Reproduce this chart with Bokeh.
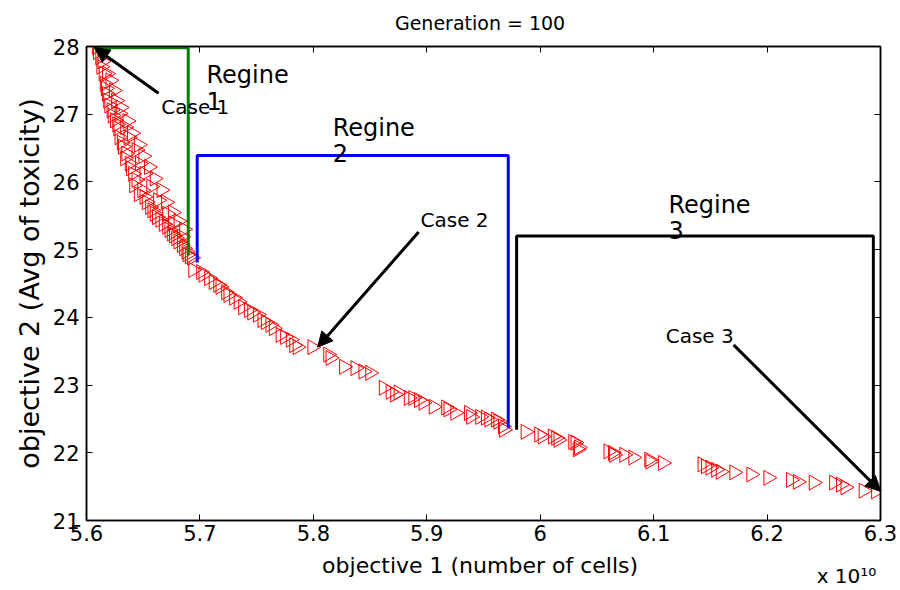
import math
from bokeh.plotting import figure
from bokeh.models import Range1d, FixedTicker, LinearAxis, Label, Arrow, NormalHead
from bokeh.embed import file_html
from bokeh.resources import INLINE

FONT = "DejaVu Sans"

# ---- data (objective 1 in units of 1e10 cells, objective 2 = avg toxicity) ----
cells_e10 = [
    5.609, 5.610, 5.612, 5.613, 5.614, 5.615, 5.621, 5.616, 5.617, 5.618,
    5.619, 5.626, 5.620, 5.622, 5.629, 5.623, 5.625, 5.627, 5.634, 5.628,
    5.629, 5.637, 5.631, 5.632, 5.644, 5.635, 5.634, 5.638, 5.647, 5.639,
    5.641, 5.651, 5.644, 5.642, 5.657, 5.649, 5.646, 5.651, 5.663, 5.653,
    5.656, 5.658, 5.660, 5.671, 5.662, 5.665, 5.676, 5.668, 5.671, 5.673,
    5.675, 5.677, 5.684, 5.679, 5.681, 5.684, 5.686, 5.688, 5.689, 5.691,
    5.618, 5.624, 5.630, 5.636, 5.640, 5.646, 5.650, 5.655, 5.660, 5.666,
    5.670, 5.676, 5.681, 5.686,
    5.693, 5.694, 5.701, 5.703, 5.708, 5.712, 5.716, 5.718, 5.723, 5.725,
    5.730, 5.734, 5.738, 5.743, 5.746, 5.751, 5.755, 5.758, 5.762, 5.765,
    5.771, 5.775, 5.780, 5.783, 5.786, 5.799, 5.813, 5.815, 5.827, 5.837,
    5.844, 5.850, 5.862, 5.868, 5.872, 5.875, 5.884, 5.888, 5.893, 5.897,
    5.906, 5.917, 5.919, 5.925, 5.937, 5.939, 5.947, 5.952, 5.955, 5.961,
    5.963, 5.967, 5.968, 5.987, 5.999, 6.002, 6.011, 6.014, 6.016, 6.029,
    6.034, 6.031, 6.033, 6.060, 6.064, 6.065, 6.074, 6.082, 6.096, 6.097,
    6.108, 6.143, 6.146, 6.150, 6.155, 6.159, 6.171, 6.186, 6.201, 6.221,
    6.227, 6.241, 6.259, 6.265, 6.269, 6.285, 6.296,
]
toxicity = [
    27.99, 27.92, 27.84, 27.70, 27.78, 27.60, 27.50, 27.45, 27.38, 27.30,
    27.20, 27.20, 27.13, 27.06, 27.01, 26.98, 26.91, 26.85, 26.81, 26.79,
    26.66, 26.66, 26.58, 26.52, 26.47, 26.42, 26.35, 26.27, 26.27, 26.20,
    26.12, 26.12, 26.03, 25.95, 25.93, 25.88, 25.82, 25.78, 25.73, 25.70,
    25.63, 25.58, 25.53, 25.53, 25.48, 25.44, 25.39, 25.38, 25.34, 25.29,
    25.24, 25.21, 25.19, 25.17, 25.12, 25.07, 25.02, 24.97, 24.93, 24.90,
    27.60, 27.35, 27.10, 26.90, 26.72, 26.55, 26.38, 26.22, 26.05, 25.88,
    25.70, 25.55, 25.42, 25.30,
    24.88, 24.70, 24.67, 24.63, 24.58, 24.52, 24.48, 24.45, 24.37, 24.33,
    24.29, 24.23, 24.15, 24.11, 24.07, 24.04, 23.96, 23.93, 23.89, 23.84,
    23.74, 23.71, 23.67, 23.59, 23.56, 23.56, 23.45, 23.40, 23.27, 23.25,
    23.20, 23.18, 22.96, 22.90, 22.86, 22.89, 22.81, 22.81, 22.78, 22.74,
    22.68, 22.67, 22.64, 22.59, 22.59, 22.53, 22.53, 22.52, 22.49, 22.49,
    22.46, 22.39, 22.34, 22.31, 22.27, 22.24, 22.24, 22.22, 22.19, 22.16,
    22.08, 22.15, 22.05, 22.02, 22.00, 21.97, 21.97, 21.93, 21.90, 21.87,
    21.85, 21.83, 21.80, 21.78, 21.75, 21.72, 21.71, 21.68, 21.63, 21.60,
    21.57, 21.56, 21.56, 21.53, 21.49, 21.44, 21.43,
]

# regime boundary polylines
regine1_x = [5.606, 5.6897, 5.6897]
regine1_y = [27.98, 27.98, 24.92]
regine2_x = [5.6976, 5.6976, 5.9718, 5.9718]
regine2_y = [24.81, 26.39, 26.39, 22.37]
regine3_x = [5.9792, 5.9792, 6.2937, 6.2937]
regine3_y = [22.34, 25.20, 25.20, 21.51]

x_ticks = [5.6, 5.7, 5.8, 5.9, 6.0, 6.1, 6.2, 6.3]
x_tick_labels = ["5.6", "5.7", "5.8", "5.9", "6", "6.1", "6.2", "6.3"]
y_ticks = [21, 22, 23, 24, 25, 26, 27, 28]
y_tick_labels = ["21", "22", "23", "24", "25", "26", "27", "28"]

chart_title = "Generation = 100"
x_title = "objective 1 (number of cells)"
y_title = "objective 2 (Avg of toxicity)"
x_scale_note = "x 10\u00b9\u2070"

p = figure(width=900, height=590, output_backend="svg", toolbar_location=None,
           x_range=Range1d(5.6, 6.3), y_range=Range1d(21, 28),
           min_border_left=86, min_border_right=20, min_border_top=46,
           min_border_bottom=69)
p.grid.visible = False
p.outline_line_color = "black"
p.outline_line_width = 1.5
p.background_fill_color = "white"
p.border_fill_color = "white"


def style_axis(ax, ticks, labels=None, show=True):
    ax.ticker = FixedTicker(ticks=ticks)
    ax.major_tick_in = 6
    ax.major_tick_out = 0
    ax.minor_tick_line_color = None
    ax.axis_line_color = "black"
    ax.axis_line_width = 1.5
    ax.major_tick_line_color = "black"
    ax.major_tick_line_width = 1
    if show:
        ax.major_label_overrides = dict(zip(ticks, labels))
        ax.major_label_text_font = FONT
        ax.major_label_text_font_size = "21px"
        ax.major_label_text_color = "black"
        ax.axis_label_text_font = FONT
        ax.axis_label_text_font_style = "normal"
        ax.axis_label_text_color = "black"
    else:
        ax.major_label_overrides = {t: "" for t in ticks}
        ax.major_label_text_font_size = "6px"
        ax.major_label_standoff = 0


def text_row(x, text, size, standoff):
    ax = LinearAxis(ticker=FixedTicker(ticks=[x]), major_label_overrides={x: text})
    ax.axis_line_color = None
    ax.major_tick_line_color = None
    ax.minor_tick_line_color = None
    ax.major_label_text_font = FONT
    ax.major_label_text_font_size = size
    ax.major_label_text_color = "black"
    ax.major_label_standoff = standoff
    return ax


style_axis(p.xaxis[0], x_ticks, x_tick_labels)
style_axis(p.yaxis[0], y_ticks, y_tick_labels)
p.yaxis[0].axis_label = y_title
p.yaxis[0].axis_label_text_font_size = "27px"
p.xaxis[0].major_label_standoff = 4
p.yaxis[0].major_label_standoff = 7
p.yaxis[0].axis_label_standoff = 5

x_mid = (x_ticks[0] + x_ticks[-1]) / 2 - 0.003

# x title row and the "x 10^10" scale note
p.add_layout(text_row(x_mid, x_title, "22px", 3), "below")
p.add_layout(text_row(6.27, x_scale_note, "20px", -23), "below")

# box ticks on top/right, then the chart title above
top_ax = LinearAxis()
style_axis(top_ax, x_ticks, show=False)
p.add_layout(top_ax, "above")
p.add_layout(text_row(x_mid, chart_title, "19px", 7), "above")
right_ax = LinearAxis()
style_axis(right_ax, y_ticks, show=False)
p.add_layout(right_ax, "right")

# points
p.scatter(cells_e10, toxicity, marker="triangle", angle=-math.pi / 2, size=15,
          fill_color=None, line_color="red", line_width=1)

# regime boxes
p.line(regine1_x, regine1_y, line_color="#008000", line_width=3)
p.line(regine2_x, regine2_y, line_color="#0000ff", line_width=3)
p.line(regine3_x, regine3_y, line_color="black", line_width=3)


def add_label(x, y, text, size):
    p.add_layout(Label(x=x, y=y, text=text, text_font=FONT, text_font_size=size,
                       text_color="black", text_baseline="alphabetic", y_offset=7))


add_label(5.7058, 27.48, "Regine", "24px")
add_label(5.7058, 27.09, "1", "24px")
add_label(5.817, 26.69, "Regine", "24px")
add_label(5.817, 26.32, "2", "24px")
add_label(6.113, 25.56, "Regine", "24px")
add_label(6.113, 25.19, "3", "24px")
add_label(5.6659, 27.01, "Case 1", "20px")
add_label(5.8945, 25.33, "Case 2", "20px")
add_label(6.1106, 23.62, "Case 3", "20px")

# arrows
for xs, ys, xe, ye in [(5.6635, 27.31, 5.607, 27.985),
                       (5.8928, 25.26, 5.8037, 23.56),
                       (6.1705, 23.594, 6.3002, 21.43)]:
    p.add_layout(Arrow(end=NormalHead(size=15, fill_color="black", line_color="black"),
                       x_start=xs, y_start=ys, x_end=xe, y_end=ye,
                       line_color="black", line_width=3))

open("out.html", "w").write(file_html(p, INLINE))
